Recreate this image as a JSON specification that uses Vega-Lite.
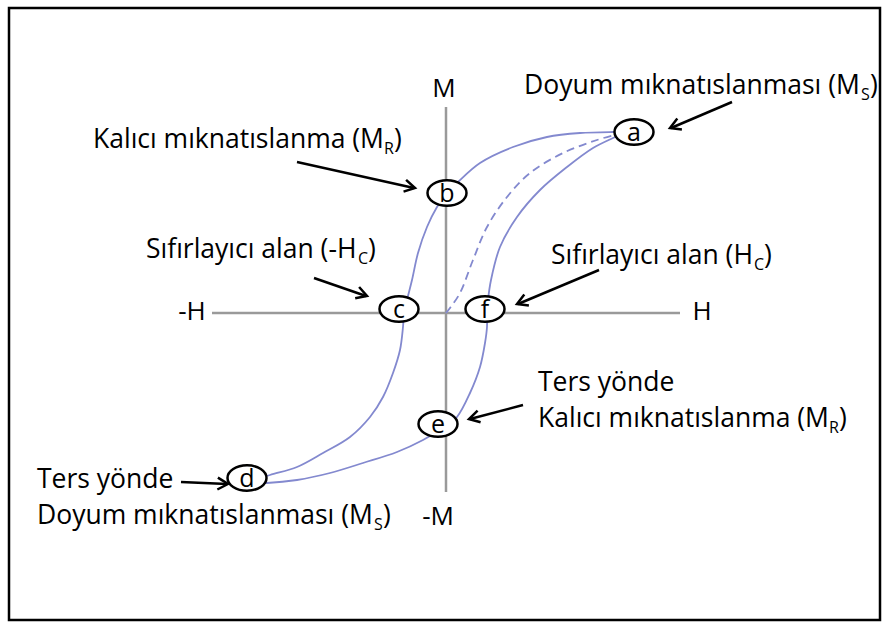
{
  "$schema": "https://vega.github.io/schema/vega-lite/v6.json",
  "width": 886,
  "height": 628,
  "autosize": {"type": "fit", "contains": "padding"},
  "padding": 0,
  "background": "white",
  "config": {"view": {"stroke": null}},
  "datasets": {
    "frame": [{"h": -4.37, "m": 3.05, "h2": 4.34, "m2": -3.07}],
    "axes": [
      {"h": -2.34, "m": 0, "h2": 2.34, "m2": 0},
      {"h": 0, "m": 2.06, "h2": 0, "m2": -1.79}
    ],
    "loop": [
      {"branch": "upper", "i": 0, "h": 1.74, "m": 1.81},
      {"branch": "upper", "i": 1, "h": 1.67, "m": 1.81},
      {"branch": "upper", "i": 2, "h": 1.34, "m": 1.80},
      {"branch": "upper", "i": 3, "h": 1.01, "m": 1.76},
      {"branch": "upper", "i": 4, "h": 0.67, "m": 1.66},
      {"branch": "upper", "i": 5, "h": 0.34, "m": 1.50},
      {"branch": "upper", "i": 6, "h": 0.12, "m": 1.31},
      {"branch": "upper", "i": 7, "h": 0.01, "m": 1.20},
      {"branch": "upper", "i": 8, "h": -0.09, "m": 1.06},
      {"branch": "upper", "i": 9, "h": -0.19, "m": 0.86},
      {"branch": "upper", "i": 10, "h": -0.28, "m": 0.60},
      {"branch": "upper", "i": 11, "h": -0.34, "m": 0.33},
      {"branch": "upper", "i": 12, "h": -0.39, "m": 0.13},
      {"branch": "upper", "i": 13, "h": -0.42, "m": -0.01},
      {"branch": "upper", "i": 14, "h": -0.43, "m": -0.14},
      {"branch": "upper", "i": 15, "h": -0.46, "m": -0.37},
      {"branch": "upper", "i": 16, "h": -0.53, "m": -0.60},
      {"branch": "upper", "i": 17, "h": -0.63, "m": -0.84},
      {"branch": "upper", "i": 18, "h": -0.76, "m": -1.04},
      {"branch": "upper", "i": 19, "h": -0.96, "m": -1.24},
      {"branch": "upper", "i": 20, "h": -1.23, "m": -1.40},
      {"branch": "upper", "i": 21, "h": -1.49, "m": -1.54},
      {"branch": "upper", "i": 22, "h": -1.76, "m": -1.62},
      {"branch": "upper", "i": 23, "h": -1.91, "m": -1.67},
      {"branch": "lower", "i": 0, "h": -1.91, "m": -1.70},
      {"branch": "lower", "i": 1, "h": -1.79, "m": -1.70},
      {"branch": "lower", "i": 2, "h": -1.49, "m": -1.67},
      {"branch": "lower", "i": 3, "h": -1.16, "m": -1.60},
      {"branch": "lower", "i": 4, "h": -0.83, "m": -1.50},
      {"branch": "lower", "i": 5, "h": -0.49, "m": -1.39},
      {"branch": "lower", "i": 6, "h": -0.23, "m": -1.27},
      {"branch": "lower", "i": 7, "h": 0.00, "m": -1.13},
      {"branch": "lower", "i": 8, "h": 0.11, "m": -1.04},
      {"branch": "lower", "i": 9, "h": 0.24, "m": -0.80},
      {"branch": "lower", "i": 10, "h": 0.34, "m": -0.54},
      {"branch": "lower", "i": 11, "h": 0.39, "m": -0.30},
      {"branch": "lower", "i": 12, "h": 0.41, "m": -0.14},
      {"branch": "lower", "i": 13, "h": 0.41, "m": 0.00},
      {"branch": "lower", "i": 14, "h": 0.42, "m": 0.13},
      {"branch": "lower", "i": 15, "h": 0.45, "m": 0.33},
      {"branch": "lower", "i": 16, "h": 0.54, "m": 0.66},
      {"branch": "lower", "i": 17, "h": 0.71, "m": 0.96},
      {"branch": "lower", "i": 18, "h": 0.94, "m": 1.23},
      {"branch": "lower", "i": 19, "h": 1.21, "m": 1.46},
      {"branch": "lower", "i": 20, "h": 1.47, "m": 1.65},
      {"branch": "lower", "i": 21, "h": 1.67, "m": 1.75},
      {"branch": "lower", "i": 22, "h": 1.76, "m": 1.79}
    ],
    "initial": [
      {"i": 0, "h": 0.00, "m": 0.00},
      {"i": 1, "h": 0.04, "m": 0.05},
      {"i": 2, "h": 0.14, "m": 0.20},
      {"i": 3, "h": 0.27, "m": 0.53},
      {"i": 4, "h": 0.41, "m": 0.86},
      {"i": 5, "h": 0.61, "m": 1.16},
      {"i": 6, "h": 0.84, "m": 1.40},
      {"i": 7, "h": 1.17, "m": 1.60},
      {"i": 8, "h": 1.51, "m": 1.73},
      {"i": 9, "h": 1.72, "m": 1.79}
    ],
    "shafts": [
      {"id": 1, "h": 2.86, "m": 2.11, "h2": 2.25, "m2": 1.85},
      {"id": 2, "h": -1.49, "m": 1.51, "h2": -0.32, "m2": 1.25},
      {"id": 3, "h": -1.32, "m": 0.35, "h2": -0.80, "m2": 0.17},
      {"id": 4, "h": 1.53, "m": 0.43, "h2": 0.72, "m2": 0.09},
      {"id": 5, "h": 0.77, "m": -0.92, "h2": 0.24, "m2": -1.06},
      {"id": 6, "h": -2.65, "m": -1.69, "h2": -2.19, "m2": -1.71}
    ],
    "heads": [
      {"id": 1, "i": 0, "h": 2.313, "m": 1.946},
      {"id": 1, "i": 1, "h": 2.24, "m": 1.85},
      {"id": 1, "i": 2, "h": 2.359, "m": 1.835},
      {"id": 2, "i": 0, "h": -0.4245, "m": 1.214},
      {"id": 2, "i": 1, "h": -0.31, "m": 1.25},
      {"id": 2, "i": 2, "h": -0.399, "m": 1.331},
      {"id": 3, "i": 0, "h": -0.908, "m": 0.147},
      {"id": 3, "i": 1, "h": -0.79, "m": 0.17},
      {"id": 3, "i": 2, "h": -0.869, "m": 0.26},
      {"id": 4, "i": 0, "h": 0.783, "m": 0.185},
      {"id": 4, "i": 1, "h": 0.71, "m": 0.09},
      {"id": 4, "i": 2, "h": 0.829, "m": 0.074},
      {"id": 5, "i": 0, "h": 0.316, "m": -0.976},
      {"id": 5, "i": 1, "h": 0.23, "m": -1.06},
      {"id": 5, "i": 2, "h": 0.346, "m": -1.092},
      {"id": 6, "i": 0, "h": -2.2865, "m": -1.765},
      {"id": 6, "i": 1, "h": -2.18, "m": -1.71},
      {"id": 6, "i": 2, "h": -2.281, "m": -1.646}
    ],
    "points": [
      {"label": "a", "h": 1.88, "m": 1.81},
      {"label": "b", "h": 0.01, "m": 1.20},
      {"label": "c", "h": -0.47, "m": 0.04},
      {"label": "f", "h": 0.39, "m": 0.04},
      {"label": "e", "h": -0.08, "m": -1.11},
      {"label": "d", "h": -1.99, "m": -1.65}
    ],
    "axisLabels": [
      {"text": "M", "h": -0.02, "m": 2.24},
      {"text": "-M", "h": -0.08, "m": -2.04},
      {"text": "-H", "h": -2.54, "m": 0.01},
      {"text": "H", "h": 2.56, "m": 0.01}
    ],
    "mainText": [
      {"text": "Doyum mıknatıslanması (M", "h": 0.78, "m": 2.27},
      {"text": "Kalıcı mıknatıslanma (M", "h": -3.53, "m": 1.73},
      {"text": "Sıfırlayıcı alan (-H", "h": -3.00, "m": 0.63},
      {"text": "Sıfırlayıcı alan (H", "h": 1.05, "m": 0.57},
      {"text": "Ters yönde", "h": 0.92, "m": -0.70},
      {"text": "Kalıcı mıknatıslanma (M", "h": 0.92, "m": -1.06},
      {"text": "Ters yönde", "h": -4.09, "m": -1.67},
      {"text": "Doyum mıknatıslanması (M", "h": -4.09, "m": -2.03}
    ],
    "subText": [
      {"text": "S", "h": 4.15, "m": 2.18},
      {"text": "R", "h": -0.62, "m": 1.64},
      {"text": "C", "h": -0.88, "m": 0.54},
      {"text": "C", "h": 3.08, "m": 0.48},
      {"text": "R", "h": 3.83, "m": -1.15},
      {"text": "S", "h": -0.72, "m": -2.12}
    ],
    "closeText": [
      {"text": ")", "h": 4.24, "m": 2.27},
      {"text": ")", "h": -0.52, "m": 1.73},
      {"text": ")", "h": -0.78, "m": 0.63},
      {"text": " )", "h": 3.18, "m": 0.57},
      {"text": ")", "h": 3.93, "m": -1.06},
      {"text": ")", "h": -0.63, "m": -2.03}
    ]
  },
  "encoding": {
    "x": {"field": "h", "type": "quantitative", "scale": {"domain": [-4.46, 4.40], "nice": false, "zero": false}, "axis": null},
    "y": {"field": "m", "type": "quantitative", "scale": {"domain": [-3.15, 3.13], "nice": false, "zero": false}, "axis": null}
  },
  "layer": [
    {
      "data": {"name": "frame"},
      "mark": {"type": "rect", "fill": null, "stroke": "black", "strokeWidth": 2.5},
      "encoding": {"x2": {"field": "h2"}, "y2": {"field": "m2"}}
    },
    {
      "data": {"name": "axes"},
      "mark": {"type": "rule", "stroke": "#9a9a9a", "strokeWidth": 2.5},
      "encoding": {"x2": {"field": "h2"}, "y2": {"field": "m2"}}
    },
    {
      "data": {"name": "loop"},
      "mark": {"type": "line", "stroke": "#8389cf", "strokeWidth": 1.8, "interpolate": "catmull-rom"},
      "encoding": {"detail": {"field": "branch"}, "order": {"field": "i", "type": "quantitative"}}
    },
    {
      "data": {"name": "initial"},
      "mark": {"type": "line", "stroke": "#8389cf", "strokeWidth": 1.8, "strokeDash": [8, 5], "interpolate": "catmull-rom"},
      "encoding": {"order": {"field": "i", "type": "quantitative"}}
    },
    {
      "data": {"name": "shafts"},
      "mark": {"type": "rule", "stroke": "black", "strokeWidth": 2.5},
      "encoding": {"x2": {"field": "h2"}, "y2": {"field": "m2"}}
    },
    {
      "data": {"name": "heads"},
      "mark": {"type": "line", "stroke": "black", "strokeWidth": 2.5, "strokeJoin": "miter"},
      "encoding": {"detail": {"field": "id"}, "order": {"field": "i", "type": "quantitative"}}
    },
    {
      "data": {"name": "points"},
      "mark": {"type": "point", "shape": "M -1 0 C -1 -0.359 -0.552 -0.65 0 -0.65 C 0.552 -0.65 1 -0.359 1 0 C 1 0.359 0.552 0.65 0 0.65 C -0.552 0.65 -1 0.359 -1 0 Z", "size": 1521, "filled": true, "fill": "white", "fillOpacity": 1, "stroke": "black", "strokeWidth": 2.5, "opacity": 1}
    },
    {
      "data": {"name": "points"},
      "mark": {"type": "text", "font": "Open Sans", "fontSize": 25, "color": "black", "baseline": "middle", "align": "center", "dy": 1},
      "encoding": {"text": {"field": "label"}}
    },
    {
      "data": {"name": "axisLabels"},
      "mark": {"type": "text", "font": "Open Sans", "fontSize": 26, "color": "black", "baseline": "middle", "align": "center"},
      "encoding": {"text": {"field": "text"}}
    },
    {
      "data": {"name": "mainText"},
      "mark": {"type": "text", "font": "Open Sans", "fontSize": 26.5, "color": "black", "baseline": "middle", "align": "left"},
      "encoding": {"text": {"field": "text"}}
    },
    {
      "data": {"name": "subText"},
      "mark": {"type": "text", "font": "Open Sans", "fontSize": 16, "color": "black", "baseline": "middle", "align": "left"},
      "encoding": {"text": {"field": "text"}}
    },
    {
      "data": {"name": "closeText"},
      "mark": {"type": "text", "font": "Open Sans", "fontSize": 26.5, "color": "black", "baseline": "middle", "align": "left"},
      "encoding": {"text": {"field": "text"}}
    }
  ]
}
